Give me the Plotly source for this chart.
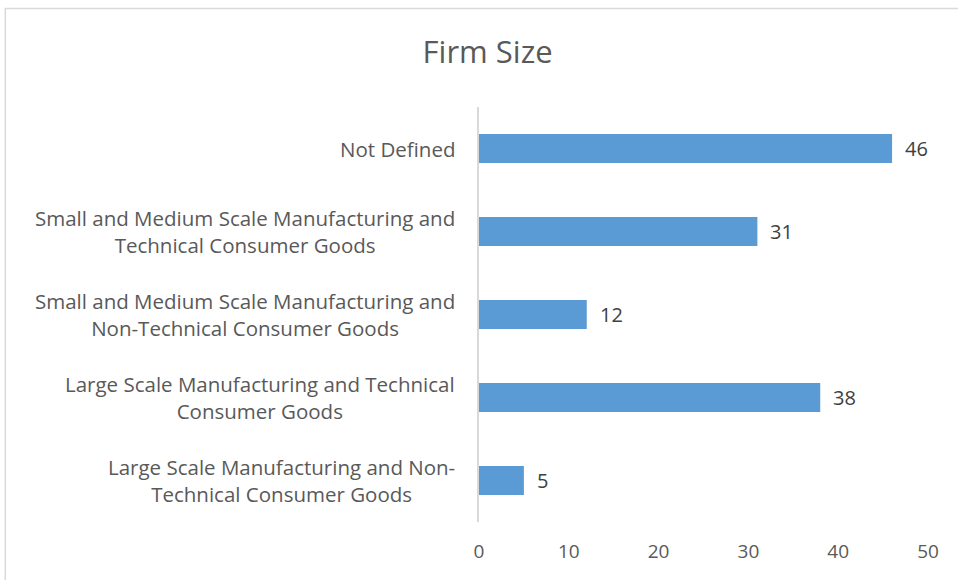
import plotly.graph_objects as go

# Firm size categories, listed top to bottom
categories = [
    "Not Defined",
    "Small and Medium Scale Manufacturing and<br>Technical Consumer Goods",
    "Small and Medium Scale Manufacturing and<br>Non-Technical Consumer Goods",
    "Large Scale Manufacturing and Technical<br>Consumer Goods",
    "Large Scale Manufacturing and Non-<br>Technical Consumer Goods",
]
counts = [46, 31, 12, 38, 5]
x_ticks = [0, 10, 20, 30, 40, 50]

FONT = "Open Sans"
TEXT = "#595959"
BAR = "#5B9BD5"

fig = go.Figure(
    go.Bar(
        y=categories,
        x=counts,
        orientation="h",
        marker=dict(color=BAR, line=dict(width=0)),
        width=0.35,
        hoverinfo="skip",
    )
)

annotations = []
# category labels, centred lines, right-aligned against the axis
for cat in categories:
    annotations.append(dict(
        x=0, y=cat, xref="x", yref="y", text=cat, showarrow=False,
        xanchor="right", align="center", xshift=-22,
        font=dict(family=FONT, size=20.5, color=TEXT),
    ))
# value labels beyond each bar end
for cat, v in zip(categories, counts):
    annotations.append(dict(
        x=v, y=cat, xref="x", yref="y", text=str(v), showarrow=False,
        xanchor="left", xshift=11,
        font=dict(family=FONT, size=20, color="#404040"),
    ))

fig.update_layout(
    width=958, height=580,
    margin=dict(l=479, r=30, t=107, b=58),
    paper_bgcolor="white", plot_bgcolor="white",
    showlegend=False,
    title=dict(
        text="Firm Size", x=0.509, xanchor="center", y=0.91, yanchor="middle",
        font=dict(family=FONT, size=31, color=TEXT),
    ),
    xaxis=dict(
        range=[0, 50], tickvals=x_ticks, showgrid=False, zeroline=False,
        showline=False, ticks="", fixedrange=True, ticklabelstandoff=16,
        tickfont=dict(family=FONT, size=19, color=TEXT),
    ),
    yaxis=dict(
        categoryorder="array", categoryarray=categories, autorange="reversed",
        showticklabels=False, showgrid=False, zeroline=False,
        showline=True, linecolor="#D9D9D9", linewidth=2, ticks="",
    ),
    annotations=annotations,
    shapes=[dict(
        type="rect", xref="paper", yref="paper",
        x0=-1.055, x1=1.5, y0=-0.5, y1=1.2373,
        line=dict(color="#D9D9D9", width=1.5), fillcolor="rgba(0,0,0,0)",
        layer="below",
    )],
)

fig.write_html("out.html")
